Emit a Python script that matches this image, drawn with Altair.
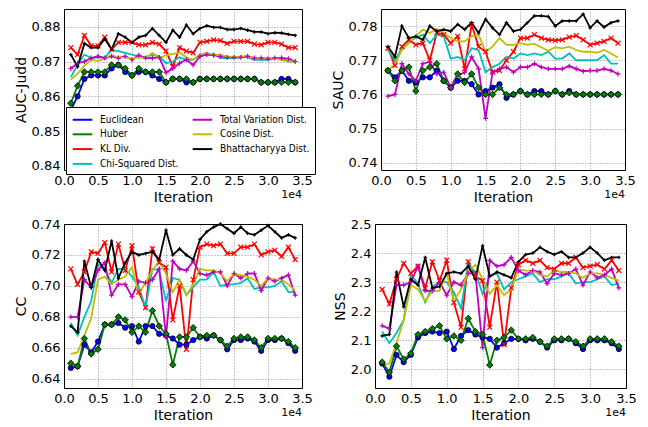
import altair as alt
import pandas as pd

iterations = [1000 * i for i in range(1, 35)]
x_ticks = [0, 5000, 10000, 15000, 20000, 25000, 30000, 35000]

methods = ["Euclidean", "Huber", "KL Div.", "Chi-Squared Dist.",
           "Total Variation Dist.", "Cosine Dist.", "Bhattacharyya Dist."]
method_colors = ["#0000ff", "#008000", "#ff0000", "#00bfbf",
                 "#bf00bf", "#bfbf00", "#000000"]

# ---------------- AUC-Judd ----------------
auc_euc = [0.856,0.860,0.865,0.866,0.866,0.866,0.868,0.869,0.867,0.866,
           0.867,0.867,0.866,0.865,0.864,0.865,0.865,0.864,0.864,0.865,
           0.865,0.865,0.865,0.865,0.865,0.865,0.865,0.865,0.864,0.864,
           0.864,0.865,0.865,0.864]
auc_hub = [0.858,0.863,0.867,0.867,0.867,0.867,0.869,0.869,0.868,0.866,
           0.868,0.867,0.867,0.867,0.864,0.865,0.865,0.865,0.864,0.865,
           0.865,0.865,0.865,0.865,0.865,0.865,0.865,0.865,0.864,0.864,
           0.864,0.864,0.864,0.864]
auc_kl = [0.874,0.872,0.8775,0.8745,0.8745,0.877,0.8735,0.8755,0.8755,0.8755,
          0.8748,0.8748,0.8755,0.875,0.873,0.8685,0.874,0.873,0.8725,0.8755,
          0.8758,0.8762,0.876,0.8752,0.8758,0.8758,0.8758,0.875,0.8748,0.8755,
          0.8755,0.875,0.874,0.874]
auc_chi = [0.8655,0.869,0.872,0.871,0.8712,0.8712,0.8733,0.873,0.8725,0.872,
           0.8715,0.8712,0.872,0.8715,0.8695,0.870,0.8712,0.8705,0.8705,0.872,
           0.872,0.8722,0.871,0.871,0.871,0.8712,0.8712,0.8705,0.8705,0.8705,
           0.871,0.871,0.870,0.870]
auc_tv = [0.868,0.8695,0.870,0.871,0.8715,0.871,0.8715,0.871,0.8715,0.8705,
          0.8718,0.871,0.871,0.8712,0.8668,0.868,0.8695,0.8705,0.869,0.8715,
          0.872,0.8718,0.8715,0.8712,0.8712,0.8712,0.8715,0.871,0.871,0.8708,
          0.871,0.871,0.8708,0.870]
auc_cos = [0.8648,0.8665,0.8688,0.8705,0.8702,0.8708,0.8718,0.8712,0.8712,0.8708,
           0.8712,0.871,0.8725,0.871,0.8718,0.8722,0.8725,0.8712,0.8705,0.872,
           0.8725,0.872,0.8718,0.8715,0.8712,0.8715,0.8715,0.871,0.871,0.871,
           0.871,0.8705,0.870,0.870]
auc_bha = [0.872,0.8685,0.8752,0.874,0.874,0.8765,0.8735,0.878,0.877,0.8755,
           0.877,0.8775,0.8795,0.8775,0.8755,0.879,0.877,0.8805,0.878,0.8795,
           0.8803,0.8798,0.8798,0.8792,0.8792,0.8795,0.879,0.8785,0.8785,0.878,
           0.8783,0.8782,0.8778,0.8775]

# ---------------- SAUC ----------------
sauc_euc = [0.767,0.765,0.767,0.764,0.7635,0.765,0.765,0.767,0.764,0.762,
            0.764,0.764,0.763,0.760,0.761,0.762,0.763,0.759,0.760,0.761,
            0.760,0.761,0.761,0.760,0.761,0.760,0.761,0.760,0.760,0.760,
            0.760,0.760,0.760,0.760]
sauc_hub = [0.767,0.764,0.767,0.768,0.761,0.767,0.768,0.769,0.764,0.762,
            0.766,0.7635,0.766,0.762,0.760,0.760,0.762,0.760,0.760,0.761,
            0.760,0.760,0.760,0.760,0.761,0.760,0.7605,0.760,0.760,0.760,
            0.760,0.760,0.760,0.760]
sauc_kl = [0.7735,0.7685,0.774,0.776,0.7745,0.775,0.770,0.778,0.7775,0.775,
           0.777,0.7675,0.7805,0.774,0.7725,0.7665,0.767,0.770,0.7725,0.7765,
           0.7765,0.7775,0.7765,0.776,0.7758,0.776,0.7768,0.7772,0.776,0.7745,
           0.775,0.7755,0.7765,0.775]
sauc_chi = [0.773,0.770,0.7735,0.7755,0.7765,0.7775,0.775,0.7775,0.777,0.7705,
            0.771,0.770,0.7735,0.773,0.7665,0.768,0.769,0.771,0.7705,0.772,
            0.7715,0.772,0.7715,0.7725,0.7705,0.7705,0.772,0.770,0.770,0.770,
            0.770,0.7715,0.769,0.769]
sauc_tv = [0.7595,0.760,0.769,0.766,0.764,0.769,0.7695,0.766,0.7665,0.762,
           0.7655,0.7665,0.771,0.7675,0.753,0.7665,0.7675,0.768,0.7665,0.768,
           0.768,0.769,0.768,0.7675,0.7675,0.7675,0.7683,0.7675,0.7668,0.767,
           0.767,0.7675,0.767,0.766]
sauc_cos = [0.767,0.769,0.773,0.775,0.777,0.779,0.778,0.7792,0.778,0.7765,
            0.7755,0.7755,0.777,0.7775,0.7725,0.774,0.7765,0.7745,0.7745,0.775,
            0.7745,0.7748,0.7738,0.7728,0.7738,0.7735,0.774,0.773,0.7725,0.7725,
            0.7722,0.773,0.772,0.7708]
sauc_bha = [0.774,0.771,0.780,0.7765,0.777,0.776,0.780,0.7785,0.779,0.7785,
            0.7805,0.779,0.781,0.778,0.782,0.7795,0.7775,0.781,0.7785,0.779,
            0.781,0.783,0.783,0.7828,0.780,0.7815,0.7815,0.7815,0.7835,0.7795,
            0.7815,0.7797,0.781,0.7815]

# ---------------- CC ----------------
cc_euc = [0.647,0.648,0.662,0.657,0.664,0.675,0.675,0.676,0.673,0.674,
          0.664,0.674,0.674,0.669,0.668,0.666,0.662,0.662,0.665,0.667,
          0.666,0.668,0.665,0.659,0.665,0.665,0.666,0.664,0.658,0.665,
          0.665,0.666,0.663,0.658]
cc_hub = [0.650,0.648,0.666,0.656,0.659,0.675,0.675,0.680,0.678,0.670,
          0.674,0.670,0.684,0.674,0.669,0.649,0.667,0.667,0.673,0.667,
          0.668,0.668,0.665,0.661,0.666,0.667,0.667,0.665,0.660,0.666,
          0.666,0.666,0.664,0.660]
cc_kl = [0.711,0.701,0.709,0.722,0.721,0.728,0.709,0.727,0.710,0.726,
         0.696,0.686,0.724,0.715,0.712,0.678,0.700,0.659,0.704,0.725,
         0.727,0.726,0.727,0.721,0.721,0.725,0.725,0.727,0.720,0.722,
         0.723,0.719,0.725,0.717]
cc_chi = [0.676,0.668,0.680,0.690,0.714,0.710,0.702,0.711,0.711,0.706,
          0.699,0.686,0.711,0.710,0.690,0.705,0.704,0.694,0.699,0.704,
          0.704,0.709,0.700,0.701,0.701,0.702,0.705,0.698,0.699,0.699,
          0.700,0.703,0.696,0.696]
cc_tv = [0.680,0.680,0.704,0.699,0.710,0.715,0.694,0.701,0.701,0.693,
         0.703,0.702,0.704,0.711,0.667,0.716,0.711,0.710,0.716,0.708,
         0.707,0.709,0.709,0.700,0.708,0.705,0.708,0.708,0.697,0.705,
         0.703,0.705,0.707,0.694]
cc_cos = [0.656,0.657,0.668,0.679,0.704,0.706,0.701,0.704,0.706,0.712,
          0.695,0.702,0.710,0.716,0.708,0.696,0.704,0.694,0.701,0.711,
          0.710,0.710,0.708,0.703,0.708,0.707,0.706,0.704,0.700,0.705,
          0.704,0.704,0.701,0.697]
cc_bha = [0.674,0.670,0.716,0.699,0.717,0.710,0.729,0.705,0.715,0.722,
          0.720,0.721,0.722,0.717,0.736,0.720,0.724,0.720,0.717,0.730,
          0.735,0.738,0.740,0.737,0.734,0.738,0.734,0.733,0.736,0.739,
          0.735,0.731,0.733,0.731]

# ---------------- NSS ----------------
nss_euc = [2.02,1.975,2.05,2.025,2.05,2.11,2.125,2.13,2.125,2.13,
           2.07,2.115,2.135,2.12,2.11,2.105,2.075,2.09,2.105,2.105,
           2.1,2.105,2.095,2.075,2.1,2.1,2.105,2.09,2.07,2.1,
           2.1,2.1,2.09,2.07]
nss_hub = [2.025,1.99,2.08,2.035,2.055,2.12,2.13,2.14,2.15,2.105,
           2.115,2.1,2.175,2.13,2.12,2.015,2.1,2.11,2.135,2.105,
           2.105,2.11,2.095,2.08,2.105,2.105,2.105,2.095,2.08,2.105,
           2.105,2.105,2.095,2.08]
nss_kl = [2.275,2.225,2.31,2.365,2.33,2.355,2.28,2.37,2.305,2.375,
          2.23,2.145,2.37,2.32,2.305,2.145,2.3,2.085,2.28,2.36,
          2.375,2.365,2.375,2.35,2.345,2.365,2.365,2.385,2.35,2.355,
          2.36,2.345,2.375,2.34]
nss_chi = [2.13,2.09,2.125,2.17,2.325,2.295,2.23,2.285,2.3,2.3,
           2.265,2.21,2.36,2.335,2.26,2.32,2.33,2.275,2.3,2.31,
           2.32,2.33,2.3,2.31,2.31,2.32,2.33,2.295,2.3,2.3,
           2.31,2.32,2.29,2.295]
nss_tv = [2.15,2.14,2.29,2.29,2.3,2.355,2.27,2.27,2.3,2.255,
          2.3,2.29,2.33,2.33,2.075,2.375,2.355,2.36,2.385,2.34,
          2.325,2.34,2.335,2.295,2.33,2.325,2.33,2.345,2.29,2.335,
          2.315,2.325,2.345,2.28]
nss_cos = [2.015,2.02,2.09,2.17,2.29,2.275,2.235,2.27,2.27,2.33,
           2.235,2.275,2.335,2.36,2.31,2.26,2.29,2.255,2.275,2.345,
           2.34,2.34,2.325,2.32,2.34,2.335,2.335,2.33,2.315,2.33,
           2.33,2.325,2.315,2.305]
nss_bha = [2.115,2.12,2.335,2.215,2.31,2.29,2.385,2.28,2.285,2.33,
           2.335,2.33,2.355,2.31,2.425,2.32,2.335,2.325,2.315,2.37,
           2.395,2.4,2.42,2.405,2.395,2.405,2.385,2.385,2.4,2.42,
           2.4,2.375,2.385,2.385]

color_of = dict(zip(methods, method_colors))

X_PLUS = "M-1,0L1,0M0,-1L0,1"
X_CROSS = "M-1,-1L1,1M-1,1L1,-1"
LEGEND_LINE = "M-1.6,0L1.6,0"
# marker style per method: (shape, size, filled, stroke)
marker_style = {
    "Euclidean": ("circle", 28, True, "black"),
    "Huber": ("diamond", 42, True, "black"),
    "KL Div.": (X_CROSS, 24, False, None),
    "Total Variation Dist.": (X_PLUS, 24, False, None),
    "Bhattacharyya Dist.": (X_PLUS, 12, False, None),
}

LEGEND_FONT = "DejaVu Sans Condensed, Liberation Sans Narrow, DejaVu Sans"


def panel(title, series, ydomain, yticks, yfmt, w, h, show_legend):
    rows = []
    for m, vals in zip(methods, series):
        for it, v in zip(iterations, vals):
            rows.append({"iter": it, "value": v, "method": m})
    df = pd.DataFrame(rows)

    xenc = alt.X("iter:Q", scale=alt.Scale(domain=[0, 35000], nice=False, zero=False),
                 axis=alt.Axis(values=x_ticks, title="Iteration", labelFlush=False,
                               labelExpr="format(datum.value / 10000, '.1f')"))
    yenc = alt.Y("value:Q", scale=alt.Scale(domain=ydomain, nice=False, zero=False),
                 axis=alt.Axis(values=yticks, format=yfmt, title=title, labelFlush=False))

    if show_legend:
        leg = alt.Legend(title=None, orient="none", legendX=2, legendY=h - 63,
                         direction="vertical", columns=2, symbolType=LEGEND_LINE,
                         symbolSize=150, symbolStrokeWidth=2, labelFontSize=10,
                         labelFont=LEGEND_FONT, labelColor="black",
                         fillColor="white", strokeColor="black",
                         padding=5, rowPadding=1.8, columnPadding=9, labelLimit=200,
                         symbolOffset=4, labelOffset=10)
    else:
        leg = None

    lines = alt.Chart(df).mark_line(strokeWidth=1.8).encode(
        x=xenc, y=yenc,
        color=alt.Color("method:N", scale=alt.Scale(domain=methods, range=method_colors),
                        legend=leg),
    )
    layers = [lines]
    for m, (shape, size, filled, stroke) in marker_style.items():
        sub = df[df["method"] == m]
        if filled:
            mk = alt.Chart(sub).mark_point(shape=shape, size=size, filled=True,
                                           fill=color_of[m], stroke=stroke,
                                           strokeWidth=0.8, opacity=1)
        else:
            mk = alt.Chart(sub).mark_point(shape=shape, size=size, filled=False,
                                           stroke=color_of[m], strokeWidth=1.2, opacity=1)
        layers.append(mk.encode(x=xenc, y=yenc))
    offset = alt.Chart(pd.DataFrame({"t": ["1e4"]})).mark_text(
        align="right", baseline="middle", fontSize=11, font="DejaVu Sans", color="black"
    ).encode(text="t:N", x=alt.value(w), y=alt.value(h + 25))
    layers.append(offset)
    return alt.layer(*layers).properties(width=w, height=h)


p1 = panel("AUC-Judd", [auc_euc, auc_hub, auc_kl, auc_chi, auc_tv, auc_cos, auc_bha],
           [0.8388, 0.8851], [0.84, 0.85, 0.86, 0.87, 0.88], ".2f", 238, 161, True)
p2 = panel("SAUC", [sauc_euc, sauc_hub, sauc_kl, sauc_chi, sauc_tv, sauc_cos, sauc_bha],
           [0.7379, 0.785], [0.74, 0.75, 0.76, 0.77, 0.78], ".2f", 244, 161, False)
p3 = panel("CC", [cc_euc, cc_hub, cc_kl, cc_chi, cc_tv, cc_cos, cc_bha],
           [0.634, 0.74], [0.64, 0.66, 0.68, 0.70, 0.72, 0.74], ".2f", 238, 164, False)
p4 = panel("NSS", [nss_euc, nss_hub, nss_kl, nss_chi, nss_tv, nss_cos, nss_bha],
           [1.936, 2.5], [2.0, 2.1, 2.2, 2.3, 2.4, 2.5], ".1f", 251, 164, False)

row1 = alt.hconcat(p1, p2, spacing=14).resolve_scale(color="independent")
row2 = alt.hconcat(p3, p4, spacing=19).resolve_scale(color="independent")

chart = alt.vconcat(row1, row2, spacing=12).resolve_scale(
    color="independent"
).properties(
    padding={"left": 5, "top": 0, "right": 0, "bottom": 0},
    background="white",
).configure_view(
    stroke="black", strokeWidth=1
).configure_axis(
    labelFont="DejaVu Sans", titleFont="DejaVu Sans",
    labelColor="black", titleColor="black", titleFontWeight="normal",
    labelFontSize=13, titleFontSize=14, ticks=False, domain=False,
    grid=True, gridColor="black", gridDash=[1, 2], gridOpacity=0.55, gridWidth=0.8,
    labelPadding=4, titlePadding=3,
)

chart.save("out.html", embed_options={"renderer": "svg", "actions": False})
